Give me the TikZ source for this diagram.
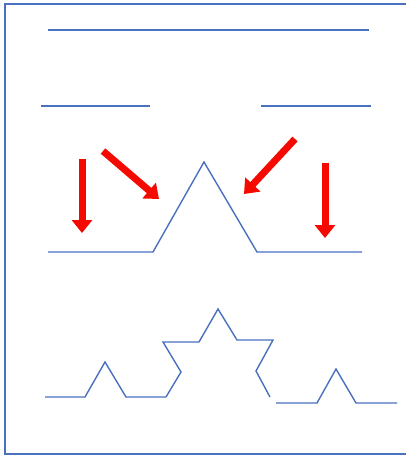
\documentclass[tikz,border=0pt]{standalone}
\usepackage{tikz}
\usetikzlibrary{arrows.meta}

\definecolor{lineblue}{HTML}{4A70C0}
\definecolor{arrowred}{HTML}{F40A00}

\begin{document}
\begin{tikzpicture}[
  x=1pt, y=-1pt,
  seg/.style={draw=lineblue, line width=1.4pt, line join=miter},
  frame/.style={draw=lineblue, line width=2.2pt},
  push/.style={draw=arrowred, line width=7pt, -{Triangle[width=20pt, length=13pt]}}
]
  \useasboundingbox (0,0) rectangle (406,456);
  % Frame (right side is cut off)
  \draw[frame] (410,4) -- (5,4) -- (5,454) -- (410,454);
  % Level 0: whole segment
  \draw[seg] (48,30) -- (369,30);
  % Cut into thirds, middle third taken out
  \draw[seg] (41,106) -- (150,106);
  \draw[seg] (261,106) -- (371,106);
  % Level 1: bump raised over the middle
  \draw[seg] (48,252) -- (153,252) -- (204,162) -- (257,252) -- (362,252);
  % Arrows moving the pieces
  \draw[push] (82,159) -- (82,233);
  \draw[push] (103,151) -- (159,199);
  \draw[push] (295,139) -- (244,194);
  \draw[push] (325,163) -- (325,238);
  % Level 2, pulled apart
  \draw[seg] (45,397) -- (85,397) -- (105,362) -- (126,397) -- (166,397);
  \draw[seg] (166,397) -- (181,372) -- (163,342) -- (199,342) -- (218,309)
    -- (237,340) -- (273,340) -- (256,371) -- (270,397);
  \draw[seg] (276,403) -- (317,403) -- (336,369) -- (356,403) -- (397,403);
\end{tikzpicture}
\end{document}
